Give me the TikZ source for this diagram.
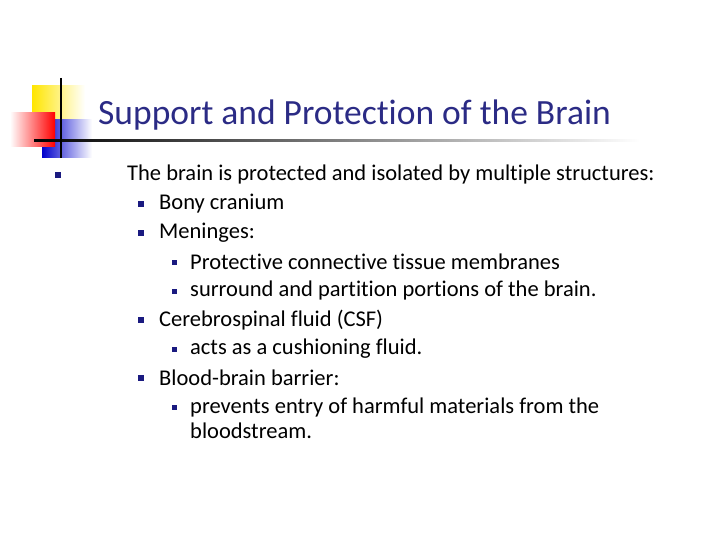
\documentclass[tikz,border=0pt]{standalone}
\usepackage{fontspec}
\setmainfont{Carlito}[Ligatures=NoCommon]
\definecolor{ttl}{HTML}{2B2B85}
\definecolor{bul}{HTML}{1A1A80}
\begin{document}
\begin{tikzpicture}[x=1pt,y=-1pt,
  txt/.style={anchor=west,inner sep=0pt,font=\fontsize{22.5}{26}\selectfont,text=black},
  b1/.style={fill=bul,minimum size=6pt,inner sep=0pt},
  b2/.style={fill=bul,minimum size=5pt,inner sep=0pt}]
\useasboundingbox (0,0) rectangle (720,540);
\fill[left color=yellow!80!orange,right color=white] (32,86) rectangle (85,125);
\fill[left color=blue!80!black,right color=white] (42,120) rectangle (92,158);
\fill[left color=white,right color=red] (10,113) rectangle (55,147);
\shade[left color=black,right color=white] (34,140) rectangle (640,142);
\draw[line width=2pt] (61,78) -- (61,158);
\node[anchor=west,inner sep=0pt,font=\fontsize{35.5}{40}\selectfont,text=ttl] (t) at (98,115) {Support and Protection of the Brain};
\node[b1] (p0) at (58,175) {};
\node[txt] (l0) at (127,175) {The brain is protected and isolated by multiple structures:};
\node[b1] (p1) at (141,204) {};
\node[txt] (l1) at (159,204) {Bony cranium};
\node[b1] (p2) at (141,233) {};
\node[txt] (l2) at (159,233) {Meninges:};
\node[b2] (p3) at (174,262) {};
\node[txt] (l3) at (190,262) {Protective connective tissue membranes};
\node[b2] (p4) at (174,291) {};
\node[txt] (l4) at (190,291) {surround and partition portions of the brain.};
\node[b1] (p5) at (141,320) {};
\node[txt] (l5) at (159,320) {Cerebrospinal fluid (CSF)};
\node[b2] (p6) at (174,349) {};
\node[txt] (l6) at (190,349) {acts as a cushioning fluid.};
\node[b1] (p7) at (141,378) {};
\node[txt] (l7) at (159,378) {Blood-brain barrier:};
\node[b2] (p8) at (174,407) {};
\node[txt] (l8) at (190,407) {prevents entry of harmful materials from the};
\node[txt] (l9) at (190,431) {bloodstream.};
\end{tikzpicture}
\end{document}
